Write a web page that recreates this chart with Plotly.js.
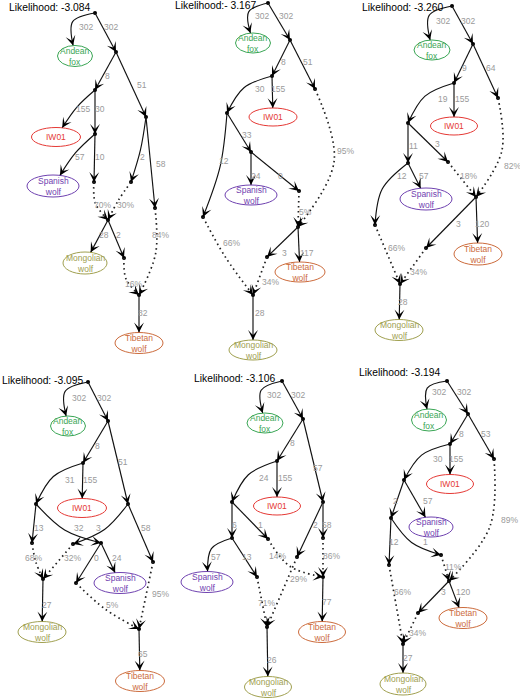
<!DOCTYPE html>
<html>
<head>
<meta charset="utf-8">
<script src="https://cdn.plot.ly/plotly-3.0.1.min.js"></script>
<style>
  html, body { margin: 0; padding: 0; background: #fff; }
  #chart { width: 520px; height: 698px; }
</style>
</head>
<body>
<div id="chart"></div>
<script>
// ---- data: likelihoods, leaf names, graph topology and edge weights ----
const TITLES = ['Likelihood: -3.084', 'Likelihood:- 3.167', 'Likelihood: -3.260',
                'Likelihood: -3.095', 'Likelihood: -3.106', 'Likelihood: -3.194'];

const LEAF_NAMES = { fox: 'Andean<br>fox', iw: 'IW01', spa: 'Spanish<br>wolf',
                     mon: 'Mongolian<br>wolf', tib: 'Tibetan<br>wolf' };
const LEAF_COLORS = { fox: '#3aa655', iw: '#e53935', spa: '#6f42b0', mon: '#a0a050', tib: '#cc6b3c' };

const EDGES_1 = [['r','fox'],['r','a'],['a','b'],['a','c'],['b','iw'],['b','d'],['d','spa'],['d','e'],
                 ['c','f'],['c','g'],['e','h'],['f','h'],['h','mon'],['h','i'],['i','j'],['g','j'],['j','tib']];
const WEIGHTS_1 = ['302','302','8','51','155','30','57','10','2','58','70%','30%','28','2','16%','84%','82'];

const EDGES_2 = [['r','fox'],['r','a'],['a','b'],['a','c'],['b','iw'],['b','d'],['d','e'],['d','f'],
                 ['e','spa'],['e','g'],['g','h'],['c','h'],['h','i'],['h','tib'],['f','j'],['i','j'],['j','mon']];
const WEIGHTS_2 = ['302','302','8','51','155','30','33','12','24','0','5%','95%','3','117','66%','34%','28'];

const EDGES_3 = [['r','fox'],['r','a'],['a','b'],['a','c'],['b','iw'],['b','d'],['d','e'],['d','f'],
                 ['e','spa'],['e','g'],['f','h'],['c','h'],['h','i'],['h','tib'],['g','j'],['i','j'],['j','mon']];
const WEIGHTS_3 = ['302','302','9','64','155','19','11','3','57','12','18%','82%','3','120','66%','34%','28'];

const EDGES_4 = [['r','fox'],['r','a'],['a','b'],['a','c'],['b','iw'],['b','d'],['d','e'],['d','g'],['c','f'],
                 ['c','h'],['g','spa'],['g','i'],['e','j'],['f','j'],['j','mon'],['i','k'],['h','k'],['k','tib']];
const WEIGHTS_4 = ['302','302','8','51','155','31','13','32','3','58','24','0','68%','32%','27','5%','95%','65'];

const EDGES_5 = [['r','fox'],['r','a'],['a','b'],['a','c'],['b','iw'],['b','d'],['d','e'],['d','f'],['c','g'],
                 ['c','h'],['e','spa'],['e','i'],['f','k'],['h','k'],['i','j'],['g','j'],['k','tib'],['j','mon']];
const WEIGHTS_5 = ['302','302','8','57','155','24','6','1','2','58','57','13','14%','86%','71%','29%','77','26'];

const EDGES_6 = [['r','fox'],['r','a'],['a','b'],['a','c'],['b','iw'],['b','d'],['d','e'],['d','spa'],
                 ['e','f'],['e','g'],['g','h'],['c','h'],['h','i'],['h','tib'],['f','j'],['i','j'],['j','mon']];
const WEIGHTS_6 = ['302','302','8','53','155','30','2','57','12','1','11%','89%','3','120','66%','34%','27'];

// ---- layout: node positions (px), leaves carry ellipse radii; per-edge label position and bend ----
const POS_1 = { r:[95,13], a:[116,52], b:[95,90], c:[146,117], d:[95,134], e:[94,182], f:[131,182],
  g:[155,208], h:[108,220], i:[124,258], j:[139,295],
  fox:[75,56,17.5,10.5], iw:[56,137,24.5,9.5], spa:[53,186,26,11], mon:[85,263,22,11], tib:[139,343,24,10.5] };
const EL_1 = [[86,27,0.35],[111,27,0],[107,76,0],[142,85,0],[83,109,0.05],[100,109,0],[80,157,0.05],[100,157,0],
  [142,157,-0.03],[161,164,0],[102,205,0.15],[125,205,0.03],[104,235,0],[118,235,0],[133,284,0.15],[160,235,-0.1],[143,313,0]];

const POS_2 = { r:[268,3], a:[290,40], b:[272,76], c:[315,89], d:[227,113], e:[251,152], f:[203,217],
  g:[299,191], h:[298,227], i:[267,257], j:[253,295],
  fox:[253,43,17.5,10], iw:[273,117,24,9], spa:[251,195,26,10], tib:[300,272,25,10], mon:[253,350,24,10] };
const EL_2 = [[262,16,0.35],[286,16,0],[283,62,0],[308,62,0],[278,89,0],[260,89,0.15],[247,135,0],[224,161,-0.05],
  [256,176,0],[280,176,0],[305,212,0],[345,151,-0.2],[284,253,0],[307,253,0],[231,243,0.03],[270,282,0],[260,313,0]];

const POS_3 = { r:[452,6], a:[473,44], b:[454,83], c:[498,98], d:[408,123], e:[408,163], f:[448,162],
  g:[375,225], h:[476,197], i:[426,248], j:[400,284],
  fox:[432,50,18,10], iw:[454,126,23.5,9], spa:[426,199,26,11], tib:[478,254,24,11], mon:[399,330,24,10.5] };
const EL_3 = [[443,21,0.35],[468,21,0],[464,68,0],[491,68,0],[462,99,0],[443,99,0.15],[413,146,0],[437,144,0],
  [424,176,0],[402,176,0.15],[468,176,0],[512,166,-0.15],[458,224,0],[482,224,0],[396,248,0],[418,272,0],[403,302,0]];

const POS_4 = { r:[88,382], a:[108,421], b:[83,463], c:[128,504], d:[36,504], e:[32,543], f:[73,544],
  g:[101,543], h:[153,562], i:[76,583], j:[43,579], k:[139,629],
  fox:[68,426,17.5,10], iw:[82,508,24.5,9.5], spa:[120,583,26,10.5], mon:[42,632,24,10.5], tib:[140,681,24.5,10.5] };
const EL_4 = [[79,398,0.35],[104,398,0],[97,446,0],[123,462,0],[90,480,0],[70,480,0.15],[39,528,0],[79,528,0.1],
  [98,528,-0.1],[146,528,0],[117,558,0],[96,558,0],[33,558,0.05],[72,558,0],[47,605,0],[112,605,0.05],[160,594,0],[143,654,0]];

const POS_5 = { r:[282,381], a:[303,419], b:[277,461], c:[323,502], d:[232,502], e:[232,538], f:[268,539],
  g:[297,557], h:[323,538], i:[257,577], k:[323,577], j:[267,627],
  fox:[265,423,18,10], iw:[277,506,23.5,9], spa:[207,582,26,10.5], tib:[322,632,23.5,10.5], mon:[268,687,23.5,10.5] };
const EL_5 = [[274,395,0.35],[298,395,0],[292,443,0],[318,468,0],[285,478,0],[264,478,0.15],[234,525,0],[260,525,0],
  [315,525,0],[327,525,0],[216,557,0.25],[247,557,0],[277,556,0.15],[331,556,0],[266,603,0],[298,579,0],[327,602,0],[272,660,0]];

const POS_6 = { r:[447,381], a:[468,414], b:[450,444], c:[494,459], d:[404,480], e:[391,518], f:[389,565],
  g:[441,555], h:[449,581], i:[418,613], j:[403,644],
  fox:[429,420,17.5,11], iw:[450,484,23.5,9.5], spa:[431,527,22,10], tib:[463,618,24,10.5], mon:[403,684,23,11] };
const EL_6 = [[439,392,0.35],[464,392,0],[461,434,0],[486,434,0],[456,459,0],[438,459,0.15],[395,501,0],[428,501,0],
  [394,542,0],[425,542,0.12],[453,567,0],[509,520,-0.15],[443,592,0],[463,592,0],[402,592,0],[417,633,0],[408,658,0]];

const TITLE_POS = [[7,7],[173,5],[360,7],[0,380],[192,378],[357,372]];

const panels = [
  { edges: EDGES_1, weights: WEIGHTS_1, pos: POS_1, el: EL_1 },
  { edges: EDGES_2, weights: WEIGHTS_2, pos: POS_2, el: EL_2 },
  { edges: EDGES_3, weights: WEIGHTS_3, pos: POS_3, el: EL_3 },
  { edges: EDGES_4, weights: WEIGHTS_4, pos: POS_4, el: EL_4 },
  { edges: EDGES_5, weights: WEIGHTS_5, pos: POS_5, el: EL_5 },
  { edges: EDGES_6, weights: WEIGHTS_6, pos: POS_6, el: EL_6 }
];

const FONT = 'Liberation Sans, Arial, sans-serif';
const traces = [];
const shapes = [];
const annotations = [];

panels.forEach((p, n) => {
  // internal node dots
  const dx = [], dy = [];
  Object.values(p.pos).forEach(v => { if (v.length === 2) { dx.push(v[0]); dy.push(v[1]); } });
  traces.push({ x: dx, y: dy, mode: 'markers', type: 'scatter', hoverinfo: 'skip',
                marker: { size: 4, color: '#000' } });

  p.edges.forEach(([from, to], i) => {
    const s = p.pos[from], t = p.pos[to];
    const [lx, ly, bend] = p.el[i];
    const vx = t[0] - s[0], vy = t[1] - s[1];
    let mx = (s[0] + t[0]) / 2 - bend * vy;
    let my = (s[1] + t[1]) / 2 + bend * vx;
    let ex = t[0], ey = t[1];
    if (t.length === 4) {
      // stop at the ellipse border of a leaf
      const ux = t[0] - mx, uy = t[1] - my;
      const k = 1 / Math.sqrt((ux / t[2]) ** 2 + (uy / t[3]) ** 2);
      ex = t[0] - ux * k; ey = t[1] - uy * k;
      mx = (s[0] + ex) / 2 - bend * (ey - s[1]);
      my = (s[1] + ey) / 2 + bend * (ex - s[0]);
    }
    const dotted = p.weights[i].endsWith('%');
    const xs = bend === 0 ? [s[0], ex] : [s[0], mx, ex];
    const ys = bend === 0 ? [s[1], ey] : [s[1], my, ey];
    traces.push({
      x: xs, y: ys, mode: 'lines', type: 'scatter', hoverinfo: 'skip',
      line: { color: dotted ? '#222' : '#111', width: dotted ? 1.7 : 1.15,
              dash: dotted ? '1.6px,3.4px' : 'solid', shape: bend === 0 ? 'linear' : 'spline' }
    });
    // arrowhead along the end tangent
    let tx = ex - (mx + 0.2 * (ex - s[0])), ty = ey - (my + 0.2 * (ey - s[1]));
    if (bend === 0) { tx = ex - s[0]; ty = ey - s[1]; }
    const tl = Math.hypot(tx, ty);
    annotations.push({
      x: ex, y: ey, ax: ex - tx / tl * 6, ay: ey - ty / tl * 6,
      xref: 'x', yref: 'y', axref: 'x', ayref: 'y', text: '',
      showarrow: true, arrowhead: 3, arrowsize: 1.5, arrowwidth: 1.1, arrowcolor: '#000'
    });
    annotations.push({
      x: lx, y: ly, xref: 'x', yref: 'y', text: p.weights[i], showarrow: false,
      font: { family: FONT, size: 8.5, color: '#9a9a9a' }
    });
  });

  // leaves
  Object.entries(p.pos).forEach(([key, v]) => {
    if (v.length !== 4) return;
    shapes.push({ type: 'circle', xref: 'x', yref: 'y', x0: v[0] - v[2], x1: v[0] + v[2],
                  y0: v[1] - v[3], y1: v[1] + v[3], line: { color: LEAF_COLORS[key], width: 1 } });
    annotations.push({ x: v[0], y: v[1], xref: 'x', yref: 'y', text: LEAF_NAMES[key], showarrow: false,
                       font: { family: FONT, size: 8.5, color: LEAF_COLORS[key] } });
  });

  annotations.push({ x: TITLE_POS[n][0], y: TITLE_POS[n][1], xref: 'x', yref: 'y', xanchor: 'left',
                     text: TITLES[n], showarrow: false, font: { family: FONT, size: 10.3, color: '#000' } });
});

const layout = {
  width: 520, height: 698,
  margin: { l: 0, r: 0, t: 0, b: 0 },
  paper_bgcolor: '#fff', plot_bgcolor: '#fff',
  showlegend: false,
  xaxis: { range: [0, 520], visible: false, fixedrange: true },
  yaxis: { range: [698, 0], visible: false, fixedrange: true },
  shapes: shapes,
  annotations: annotations
};

Plotly.newPlot('chart', traces, layout, { displayModeBar: false, staticPlot: true });
</script>
</body>
</html>
